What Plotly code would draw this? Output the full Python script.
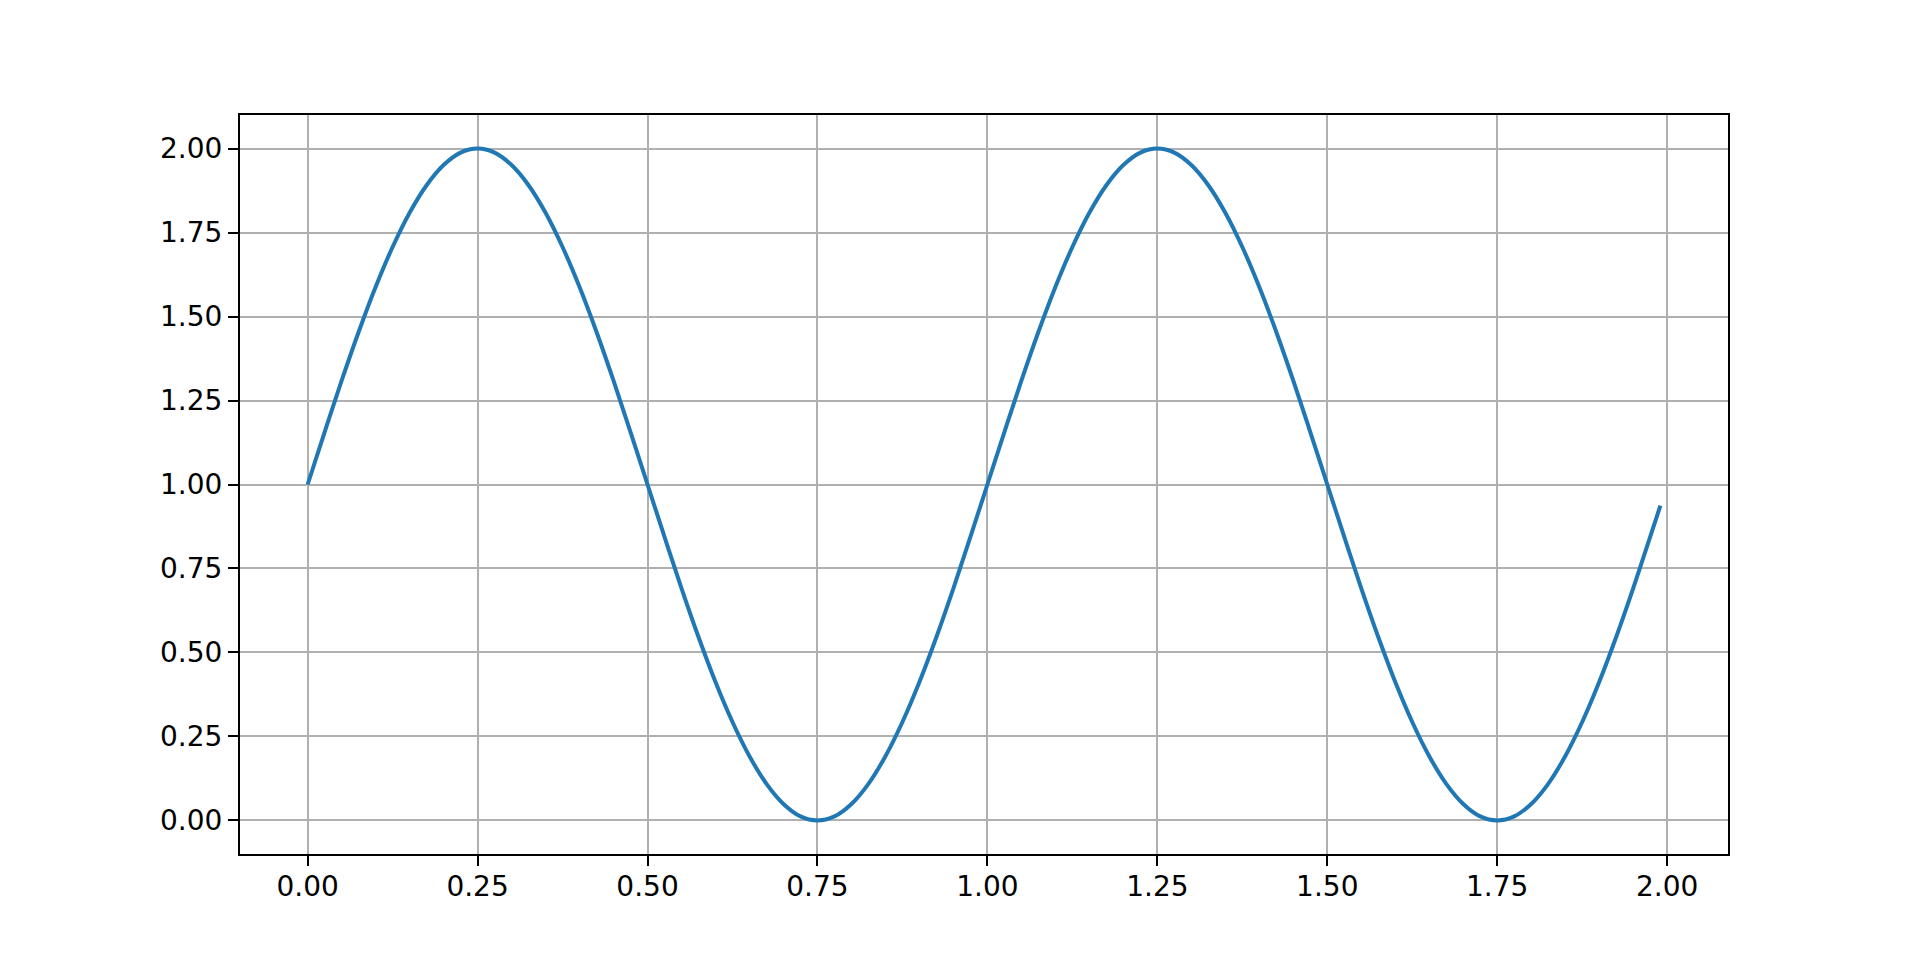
import plotly.graph_objects as go

# Values (step 0.025, last point at 1.99)
t_values = [
    0.000, 0.025, 0.050, 0.075, 0.100, 0.125, 0.150, 0.175, 0.200, 0.225,
    0.250, 0.275, 0.300, 0.325, 0.350, 0.375, 0.400, 0.425, 0.450, 0.475,
    0.500, 0.525, 0.550, 0.575, 0.600, 0.625, 0.650, 0.675, 0.700, 0.725,
    0.750, 0.775, 0.800, 0.825, 0.850, 0.875, 0.900, 0.925, 0.950, 0.975,
    1.000, 1.025, 1.050, 1.075, 1.100, 1.125, 1.150, 1.175, 1.200, 1.225,
    1.250, 1.275, 1.300, 1.325, 1.350, 1.375, 1.400, 1.425, 1.450, 1.475,
    1.500, 1.525, 1.550, 1.575, 1.600, 1.625, 1.650, 1.675, 1.700, 1.725,
    1.750, 1.775, 1.800, 1.825, 1.850, 1.875, 1.900, 1.925, 1.950, 1.975,
    1.990,
]
s_values = [
    1.000, 1.156, 1.309, 1.454, 1.588, 1.707, 1.809, 1.891, 1.951, 1.988,
    2.000, 1.988, 1.951, 1.891, 1.809, 1.707, 1.588, 1.454, 1.309, 1.156,
    1.000, 0.844, 0.691, 0.546, 0.412, 0.293, 0.191, 0.109, 0.049, 0.012,
    0.000, 0.012, 0.049, 0.109, 0.191, 0.293, 0.412, 0.546, 0.691, 0.844,
    1.000, 1.156, 1.309, 1.454, 1.588, 1.707, 1.809, 1.891, 1.951, 1.988,
    2.000, 1.988, 1.951, 1.891, 1.809, 1.707, 1.588, 1.454, 1.309, 1.156,
    1.000, 0.844, 0.691, 0.546, 0.412, 0.293, 0.191, 0.109, 0.049, 0.012,
    0.000, 0.012, 0.049, 0.109, 0.191, 0.293, 0.412, 0.546, 0.691, 0.844,
    0.937,
]
x_ticks = [0.0, 0.25, 0.5, 0.75, 1.0, 1.25, 1.5, 1.75, 2.0]
y_ticks = [0.0, 0.25, 0.5, 0.75, 1.0, 1.25, 1.5, 1.75, 2.0]

fig = go.Figure()

fig.add_trace(
    go.Scatter(
        x=t_values,
        y=s_values,
        mode="lines",
        line=dict(color="#1f77b4", width=4, shape="spline", smoothing=1.0),
        showlegend=False,
    )
)

axis_style = dict(
    showline=True,
    mirror=True,
    linecolor="black",
    linewidth=2.2,
    ticks="outside",
    ticklen=10,
    tickwidth=2.2,
    tickcolor="black",
    tickformat=".2f",
    showgrid=True,
    gridcolor="#b0b0b0",
    gridwidth=2.2,
    zeroline=False,
    tickfont=dict(family="DejaVu Sans", size=28, color="black"),
)

fig.update_xaxes(tickvals=x_ticks, range=[-0.0995, 2.0895],
                 ticklabelstandoff=-4, **axis_style)
fig.update_yaxes(tickvals=y_ticks, range=[-0.1, 2.1], **axis_style)

fig.update_layout(
    width=1920,
    height=960,
    margin=dict(l=232, r=200, t=107, b=114),
    paper_bgcolor="white",
    plot_bgcolor="white",
)

fig.write_html("out.html")
